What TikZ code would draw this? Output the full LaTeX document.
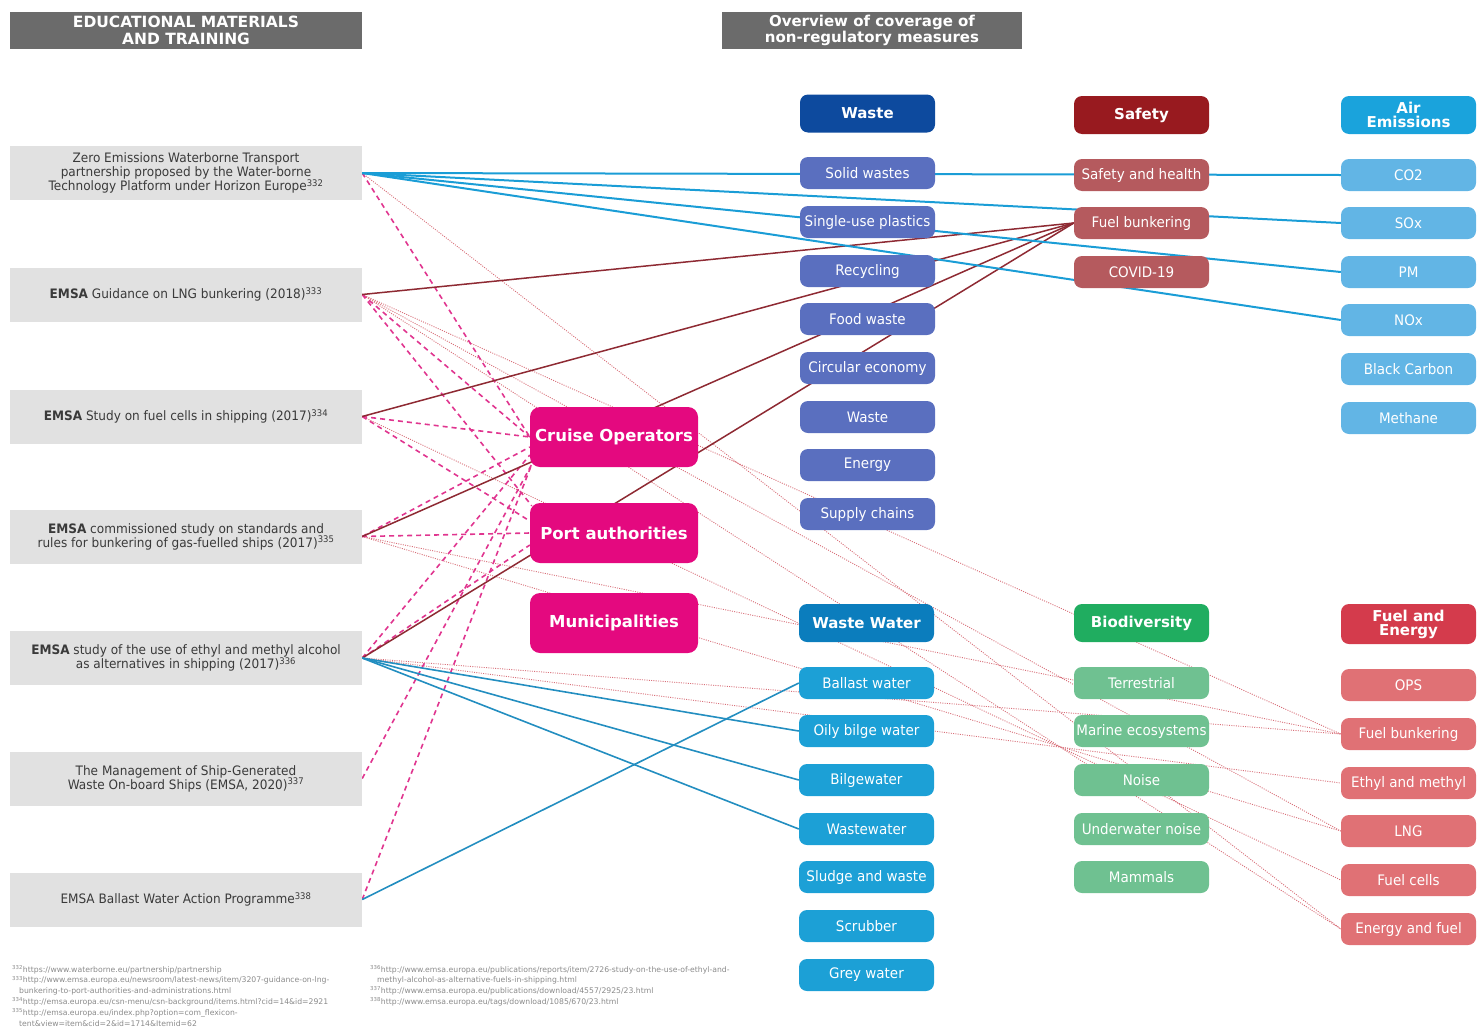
\documentclass[tikz,border=0pt]{standalone}
\usepackage{fontspec}
\setmainfont{DejaVu Sans}
\newfontfamily\condf[FakeStretch=0.93]{DejaVu Sans}
\newfontfamily\lboxf[FakeStretch=0.93]{DejaVu Sans}
\usetikzlibrary{calc}
\pgfdeclarelayer{bg}
\pgfsetlayers{bg,main}
\definecolor{hgray}{HTML}{6B6B6B}
\definecolor{lgray}{HTML}{E1E1E1}
\definecolor{ltext}{HTML}{3A3A3A}
\definecolor{wasteH}{HTML}{0D4A9E}
\definecolor{wasteI}{HTML}{5A6FBF}
\definecolor{safeH}{HTML}{981A1F}
\definecolor{safeI}{HTML}{B55A5E}
\definecolor{airH}{HTML}{1AA3DC}
\definecolor{airI}{HTML}{62B5E5}
\definecolor{wwH}{HTML}{0B7DBD}
\definecolor{wwI}{HTML}{1CA0D6}
\definecolor{bioH}{HTML}{20AD60}
\definecolor{bioI}{HTML}{6FC191}
\definecolor{feH}{HTML}{D43B4C}
\definecolor{feI}{HTML}{E07175}
\definecolor{pinkc}{HTML}{E4097F}
\definecolor{lineblue}{HTML}{1A9DD6}
\definecolor{lineblue2}{HTML}{238EC0}
\definecolor{linered}{HTML}{8E2A33}
\definecolor{dashpink}{HTML}{E0358F}
\definecolor{dotred}{HTML}{D8707A}
\definecolor{fngray}{HTML}{8A8A8A}
\begin{document}
\begin{tikzpicture}[x=1pt,y=-1pt,
  hdr/.style={fill=hgray,text=white,font=\bfseries\fontsize{15}{16.5}\selectfont,align=center,inner sep=0,minimum height=37pt},
  lbox/.style={fill=lgray,text=ltext,minimum width=352pt,minimum height=54pt,align=center,inner sep=0,font=\lboxf\fontsize{13}{14}\selectfont},
  item/.style={rounded corners=8pt,minimum width=135pt,minimum height=32pt,text=white,inner sep=0,align=center,font=\condf\fontsize{14.5}{15}\selectfont},
  chead/.style={item,minimum height=38pt,font=\bfseries\fontsize{15}{14}\selectfont},
  pbox/.style={rounded corners=10pt,fill=pinkc,text=white,minimum width=168pt,minimum height=60pt,inner sep=0,font=\bfseries\fontsize{16.5}{17}\selectfont},
  fnote/.style={anchor=north west,align=left,inner sep=0,text=fngray,font=\fontsize{7.7}{10.8}\selectfont},
  blueA/.style={draw=lineblue,line width=2pt},
  blueB/.style={draw=lineblue2,line width=1.6pt},
  redl/.style={draw=linered,line width=1.5pt},
  dashp/.style={draw=dashpink,line width=1.6pt,dash pattern=on 5pt off 4pt},
  dotr/.style={draw=dotred,line width=0.9pt,dash pattern=on 1pt off 1.3pt}
]
\useasboundingbox (0,0) rectangle (1484,1031);

% top headers
\node[hdr,minimum width=352pt,font=\bfseries\fontsize{15.5}{16.5}\selectfont] (hL) at (186,30.5) {EDUCATIONAL MATERIALS\\AND TRAINING};
\node[hdr,minimum width=300pt] (hR) at (872,30.5) {Overview of coverage of\\non-regulatory measures};

% left boxes
\node[lbox] (L1) at (186,173) {Zero Emissions Waterborne Transport\\partnership proposed by the Water-borne\\Technology Platform under Horizon Europe\textsuperscript{332}};
\node[lbox] (L2) at (186,294.5) {\textbf{EMSA} Guidance on LNG bunkering (2018)\textsuperscript{333}};
\node[lbox] (L3) at (186,416.5) {\textbf{EMSA} Study on fuel cells in shipping (2017)\textsuperscript{334}};
\node[lbox] (L4) at (186,536.5) {\textbf{EMSA} commissioned study on standards and\\rules for bunkering of gas-fuelled ships (2017)\textsuperscript{335}};
\node[lbox] (L5) at (186,658) {\textbf{EMSA} study of the use of ethyl and methyl alcohol\\as alternatives in shipping (2017)\textsuperscript{336}};
\node[lbox] (L6) at (186,778.5) {The Management of Ship-Generated\\Waste On-board Ships (EMSA, 2020)\textsuperscript{337}};
\node[lbox] (L7) at (186,899.5) {EMSA Ballast Water Action Programme\textsuperscript{338}};

% pink actors
\node[pbox] (C) at (614,437) {Cruise Operators};
\node[pbox] (P) at (614,533) {Port authorities};
\node[pbox] (M) at (614,623) {Municipalities};

% Waste column
\node[chead,fill=wasteH] (wH) at (867.5,113.5) {Waste};
\node[item,fill=wasteI] (w1) at (867.5,173) {Solid wastes};
\node[item,fill=wasteI] (w2) at (867.5,222) {Single-use plastics};
\node[item,fill=wasteI] (w3) at (867.5,271) {Recycling};
\node[item,fill=wasteI] (w4) at (867.5,319) {Food waste};
\node[item,fill=wasteI] (w5) at (867.5,368) {Circular economy};
\node[item,fill=wasteI] (w6) at (867.5,417) {Waste};
\node[item,fill=wasteI] (w7) at (867.5,465) {Energy};
\node[item,fill=wasteI] (w8) at (867.5,514) {Supply chains};

% Safety column
\node[chead,fill=safeH] (sH) at (1141.5,115) {Safety};
\node[item,fill=safeI] (s1) at (1141.5,175) {Safety and health};
\node[item,fill=safeI] (s2) at (1141.5,223) {Fuel bunkering};
\node[item,fill=safeI] (s3) at (1141.5,272) {COVID-19};

% Air emissions column
\node[chead,fill=airH] (aH) at (1408.5,115) {Air\\Emissions};
\node[item,fill=airI] (a1) at (1408.5,175) {CO2};
\node[item,fill=airI] (a2) at (1408.5,223) {SOx};
\node[item,fill=airI] (a3) at (1408.5,272) {PM};
\node[item,fill=airI] (a4) at (1408.5,320) {NOx};
\node[item,fill=airI] (a5) at (1408.5,369) {Black Carbon};
\node[item,fill=airI] (a6) at (1408.5,418) {Methane};

% Waste water column
\node[chead,fill=wwH] (vH) at (866.5,623) {Waste Water};
\node[item,fill=wwI] (v1) at (866.5,683) {Ballast water};
\node[item,fill=wwI] (v2) at (866.5,731) {Oily bilge water};
\node[item,fill=wwI] (v3) at (866.5,780) {Bilgewater};
\node[item,fill=wwI] (v4) at (866.5,829) {Wastewater};
\node[item,fill=wwI] (v5) at (866.5,877) {Sludge and waste};
\node[item,fill=wwI] (v6) at (866.5,926) {Scrubber};
\node[item,fill=wwI] (v7) at (866.5,975) {Grey water};

% Biodiversity column
\node[chead,fill=bioH] (bH) at (1141.5,623) {Biodiversity};
\node[item,fill=bioI] (b1) at (1141.5,683) {Terrestrial};
\node[item,fill=bioI] (b2) at (1141.5,731) {Marine ecosystems};
\node[item,fill=bioI] (b3) at (1141.5,780) {Noise};
\node[item,fill=bioI] (b4) at (1141.5,829) {Underwater noise};
\node[item,fill=bioI] (b5) at (1141.5,877) {Mammals};

% Fuel and energy column
\node[chead,fill=feH,minimum height=40pt] (fH) at (1408.5,624) {Fuel and\\Energy};
\node[item,fill=feI] (f1) at (1408.5,685) {OPS};
\node[item,fill=feI] (f2) at (1408.5,734) {Fuel bunkering};
\node[item,fill=feI] (f3) at (1408.5,783) {Ethyl and methyl};
\node[item,fill=feI] (f4) at (1408.5,831) {LNG};
\node[item,fill=feI] (f5) at (1408.5,880) {Fuel cells};
\node[item,fill=feI] (f6) at (1408.5,929) {Energy and fuel};

% footnotes
\node[fnote] (fn1) at (12,965) {\textsuperscript{332}https://www.waterborne.eu/partnership/partnership\\
\textsuperscript{333}http://www.emsa.europa.eu/newsroom/latest-news/item/3207-guidance-on-lng-\\
\hspace*{7pt}bunkering-to-port-authorities-and-administrations.html\\
\textsuperscript{334}http://emsa.europa.eu/csn-menu/csn-background/items.html?cid=14\&id=2921\\
\textsuperscript{335}http://emsa.europa.eu/index.php?option=com\_flexicon-\\
\hspace*{7pt}tent\&view=item\&cid=2\&id=1714\&Itemid=62};
\node[fnote] (fn2) at (370,965) {\textsuperscript{336}http://www.emsa.europa.eu/publications/reports/item/2726-study-on-the-use-of-ethyl-and-\\
\hspace*{7pt}methyl-alcohol-as-alternative-fuels-in-shipping.html\\
\textsuperscript{337}http://www.emsa.europa.eu/publications/download/4557/2925/23.html\\
\textsuperscript{338}http://www.emsa.europa.eu/tags/download/1085/670/23.html};

\begin{pgfonlayer}{bg}
% dotted links to fuel and energy
\draw[dotr] (L1.east) -- (f6.west);
\draw[dotr] (L2.east) -- (f2.west);
\draw[dotr] (L2.east) -- (f4.west);
\draw[dotr] (L2.east) -- (f6.west);
\draw[dotr] (L3.east) -- (f5.west);
\draw[dotr] (L4.east) -- (f2.west);
\draw[dotr] (L4.east) -- (f4.west);
\draw[dotr] (L5.east) -- (f2.west);
\draw[dotr] (L5.east) -- (f3.west);
% dashed links to actors
\draw[dashp] (L1.east) -- (C.west);
\draw[dashp] (L2.east) -- (C.west);
\draw[dashp] (L2.east) -- ($(P.north west)+(2,3)$);
\draw[dashp] (L3.east) -- (C.west);
\draw[dashp] (L3.east) -- ($(P.west)+(0,-12)$);
\draw[dashp] (L4.east) -- ($(C.west)+(0,10)$);
\draw[dashp] (L4.east) -- (P.west);
\draw[dashp] (L5.east) -- ($(C.west)+(0,18)$);
\draw[dashp] (L5.east) -- ($(P.west)+(0,12)$);
\draw[dashp] (L6.east) -- ($(C.south west)+(2,-3)$);
\draw[dashp] (L7.east) -- ($(C.south west)+(2,-3)$);
% red solid links to safety / fuel bunkering
\draw[redl] (L2.east) -- (s2.west);
\draw[redl] (L3.east) -- (s2.west);
\draw[redl] (L4.east) -- (s2.west);
\draw[redl] (L5.east) -- (s2.west);
% blue links to air emissions
\draw[blueA] (L1.east) -- (a1.west);
\draw[blueA] (L1.east) -- (a2.west);
\draw[blueA] (L1.east) -- (a3.west);
\draw[blueA] (L1.east) -- (a4.west);
% blue links to waste water
\draw[blueB] (L5.east) -- (v2.west);
\draw[blueB] (L5.east) -- (v3.west);
\draw[blueB] (L5.east) -- (v4.west);
\draw[blueB] (L7.east) -- (v1.west);
\end{pgfonlayer}
\end{tikzpicture}
\end{document}
